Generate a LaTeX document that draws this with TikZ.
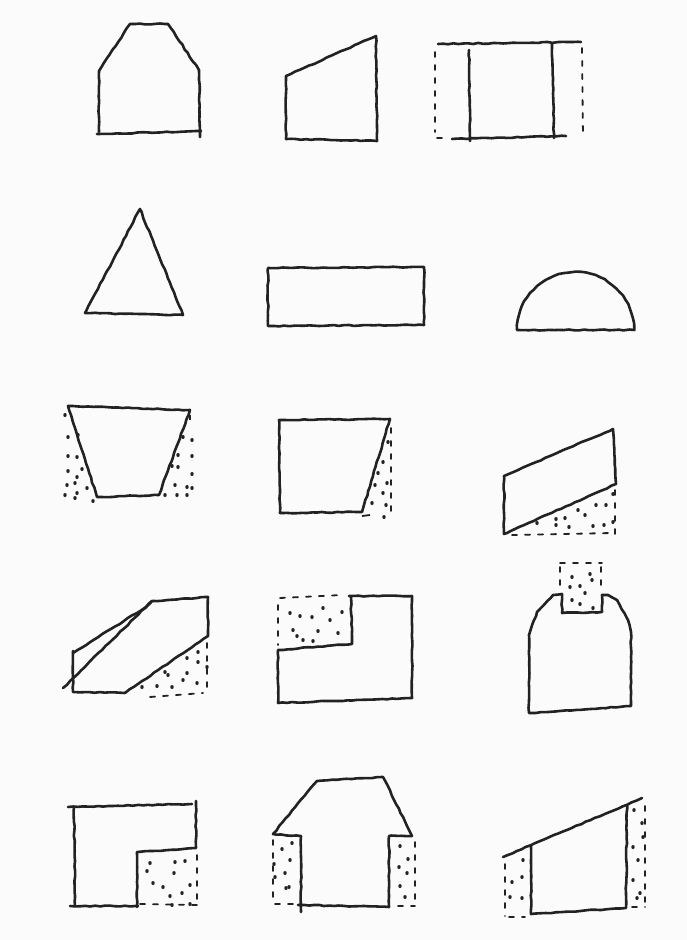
\documentclass[tikz,border=0pt]{standalone}
\usetikzlibrary{decorations.pathmorphing}
\definecolor{ink}{HTML}{222222}
\definecolor{paper}{HTML}{FBFBFB}
\begin{document}
\begin{tikzpicture}[x=1pt,y=-1pt]
\pgfmathsetseed{7}
\tikzset{
  sketch/.style={draw=ink, line width=2.6pt, line join=round, line cap=round,
    decorate, decoration={random steps, segment length=5pt, amplitude=0.5pt}},
  dashline/.style={draw=ink, line width=1.8pt, line cap=round, dash pattern=on 5pt off 8pt},
}
\newcommand\stipple[1]{\foreach \px/\py in {#1} {\fill[ink] (\px,\py) ellipse (1.7 and 2.0);}}
\fill[paper] (0,0) rectangle (687,940);
\useasboundingbox (0,0) rectangle (687,940);

% ---------- Row 1 ----------
% S1
\draw[sketch] (99,132) -- (99,71) -- (130,24) -- (168,24) -- (199,70) -- (200,137);
\draw[sketch] (97,134) -- (201,131);
% S2
\draw[sketch] (286,139) -- (286,76) -- (376,36) -- (377,141);
\draw[sketch] (286,139) -- (377,141);
% S3
\draw[sketch] (438,44) -- (581,42);
\draw[sketch] (469,50) -- (470,141);
\draw[sketch] (552,44) -- (554,138);
\draw[sketch] (452,139) -- (566,136);
\draw[dashline] (437,138) -- (446,138);
\draw[dashline] (435,52) -- (435,132);
\draw[dashline] (582,48) -- (583,137);

% ---------- Row 2 ----------
\draw[sketch] (140,209) -- (85,313) -- (183,315) -- cycle;
\draw[sketch] (268,268) -- (424,267) -- (424,325) -- (268,326) -- cycle;
\draw[sketch] (517,330) arc[start angle=180, end angle=360, x radius=58.5, y radius=58] -- cycle;

% ---------- Row 3 ----------
% S7
\draw[sketch] (68,406) -- (190,410) -- (159,495) -- (97,497) -- cycle;
\draw[ink, line width=1.8pt] (190,415) -- (190,420);
\stipple{65/415,68/437,78/435,68/456,77/457,68/471,82/469,77/477,67/485,75/483,65/495,77/493,75/498,93/501,87/488,
183/437,192/440,178/455,192/456,172/466,178/467,192/474,175/485,187/487,192/488,165/495,177/495,187/495}
% S8
\draw[sketch] (279,420) -- (390,419) -- (362,512) -- (280,513) -- cycle;
\draw[dashline] (391,428) -- (391,512);
\draw[ink, line width=1.8pt] (362,516) -- (370,515);
\stipple{388/442,383/462,378/473,387/483,375/485,383/493,372/503,386/505,384/517}
% S9
\draw[sketch] (504,476) -- (613,429) -- (616,484) -- (504,534) -- cycle;
\draw[dashline] (615,490) -- (615,534);
\draw[dashline] (512,535) -- (612,533);
\stipple{537/523,556/525,565/518,578/510,585/515,596/505,606/505,613/494,569/527,593/526,604/525,613/522,556/519}

% ---------- Row 4 ----------
% S10
\draw[sketch] (125,693) -- (73,692) -- (73,651);
\draw[sketch] (73,653) -- (146,607) -- (152,601) -- (208,597) -- (208,636) -- (125,693);
\draw[sketch] (63,688) -- (152,601);
\draw[dashline] (207,643) -- (207,690);
\draw[dashline] (150,697) -- (203,693);
\stipple{198/652,187/658,198/662,165/672,168/675,187/673,207/667,157/686,172/687,183/680,197/683,142/687}
% S11
\draw[sketch] (349,596) -- (412,596) -- (412,698) -- (278,703) -- (278,650) -- (352,644) -- (351,597);
\draw[dashline] (280,598) -- (342,595);
\draw[dashline] (278,605) -- (278,645);
\stipple{290/613,300/616,312/617,323/608,330/620,342/612,293/630,318/631,338/633,297/636,303/640,313/641}
% S12
\draw[sketch] (529,713) -- (529,635) -- (537,612) -- (553,595) -- (562,594) -- (562,613) -- (602,612) -- (602,595)
  -- (608,595) -- (617,600) -- (628,620) -- (631,632) -- (631,706) -- cycle;
\draw[dashline] (560,563) -- (602,563);
\draw[dashline] (560,567) -- (560,592);
\draw[dashline] (601,567) -- (601,592);
\stipple{572/577,590/574,580/586,592/580,570/587,585/593,572/600,580/604,593/608}

% ---------- Row 5 ----------
% S13
\draw[sketch] (70,906) -- (138,906);
\draw[sketch] (75,906) -- (74,807);
\draw[sketch] (68,807) -- (192,804);
\draw[sketch] (196,801) -- (196,848) -- (137,852) -- (137,907);
\draw[dashline] (197,855) -- (197,903);
\draw[dashline] (140,904) -- (197,905);
\stipple{150/863,147/871,175/862,185/861,174/873,153/883,163/887,190/885,182/893,170/896,172/905,190/904}
% S14
\draw[sketch] (301,912) -- (301,836) -- (273,834) -- (317,781) -- (383,777) -- (412,836) -- (389,836) -- (389,907) -- (298,905);
\draw[dashline] (273,840) -- (273,902);
\draw[dashline] (275,904) -- (296,904);
\draw[dashline] (415,842) -- (415,903);
\draw[dashline] (398,906) -- (415,906);
\stipple{282/849,292/843,290/860,274/864,285/873,275/877,286/888,289/887,
400/846,408/859,399/867,407/873,400/886,405/897}
% S15
\draw[sketch] (503,857) -- (642,798);
\draw[sketch] (531,846) -- (531,914) -- (626,908) -- (627,805);
\draw[dashline] (505,864) -- (505,916);
\draw[dashline] (509,917) -- (525,917);
\draw[dashline] (645,806) -- (645,907);
\draw[dashline] (632,907) -- (645,907);
\stipple{523/860,512/882,522/877,510/897,522/898,
634/810,642/823,643/837,633/847,638/860,633/880,640/893,637/898}
\end{tikzpicture}
\end{document}
